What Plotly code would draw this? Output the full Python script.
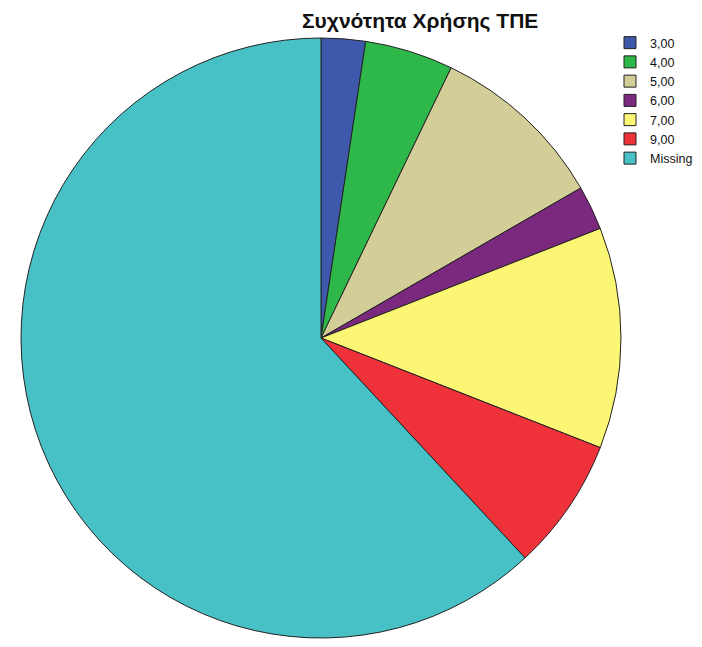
import plotly.graph_objects as go

labels = ["3,00", "4,00", "5,00", "6,00", "7,00", "9,00", "Missing"]
values = [1, 2, 4, 1, 5, 3, 26]
colors = ["#3e58ac", "#2fb84a", "#d3ce98", "#7b287f", "#fbf774", "#ef3239", "#48c1c6"]

W, H = 702, 647
fig = go.Figure(go.Pie(
    labels=labels, values=values, sort=False, direction="clockwise", rotation=0,
    marker=dict(colors=colors, line=dict(color="#222222", width=1)),
    textinfo="none", hoverinfo="label+value",
    domain=dict(x=[21 / W, 621 / W], y=[1 - 638 / H, 1 - 38 / H]),
))
fig.update_layout(
    width=W, height=H, margin=dict(l=0, r=0, t=0, b=0, autoexpand=False),
    paper_bgcolor="white", plot_bgcolor="white",
    font=dict(family="Liberation Sans, Arial, sans-serif", size=12, color="#111111"),
    legend=dict(x=610 / W, y=1 - 28 / H, xanchor="left", yanchor="top",
                font=dict(size=12.5), tracegroupgap=0, itemwidth=30,
                bgcolor="rgba(0,0,0,0)"),
    annotations=[dict(text="<b>Συχνότητα Χρήσης ΤΠΕ</b>", x=420 / W, y=1 - 21 / H,
                      xref="paper", yref="paper", xanchor="center", yanchor="middle",
                      showarrow=False, font=dict(size=21, color="#111111"))],
)
fig.write_html("out.html", config={"displayModeBar": False},
               post_script="document.body.style.margin='0';")
